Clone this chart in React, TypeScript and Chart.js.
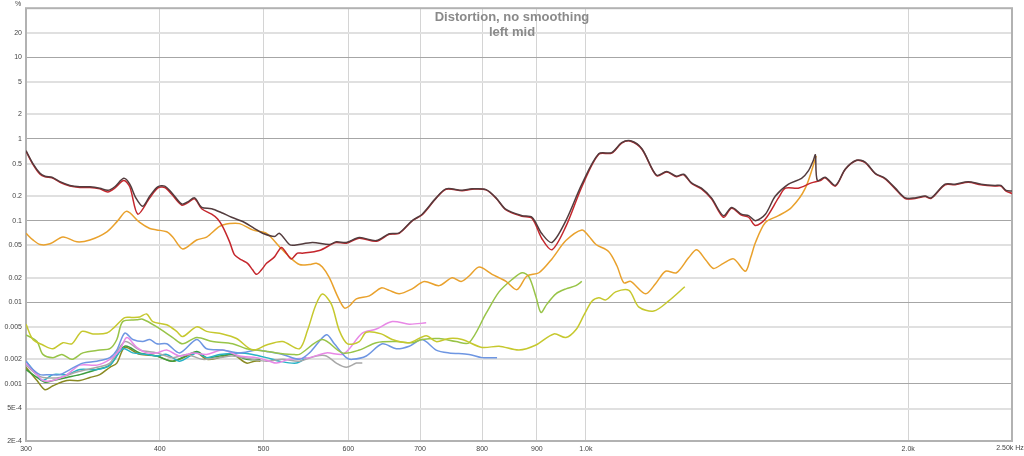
import { useEffect, useRef } from "react";
import { Chart, registerables } from "chart.js";

Chart.register(...registerables);

type P = [number, number];

// [frequency Hz, distortion %]
const totalTHD: P[] = [
  [300, 0.72], [304.5, 0.5], [309.2, 0.38], [312.5, 0.35], [317.2, 0.34], [322.7, 0.3], [329.7, 0.27],
  [336.9, 0.26], [344.2, 0.26], [351.6, 0.25], [357.7, 0.235], [363.1, 0.26], [370.2, 0.33], [375, 0.28],
  [379.9, 0.19], [385.6, 0.15], [391.5, 0.2], [398.2, 0.26], [404.3, 0.265], [410.4, 0.22], [419.3, 0.16],
  [424.7, 0.17], [431.1, 0.19], [437.7, 0.145], [447.2, 0.14], [456.9, 0.125], [466.8, 0.11], [480, 0.095],
  [490.4, 0.08], [499, 0.07], [511.9, 0.064], [517.4, 0.07], [528.6, 0.051], [534.3, 0.05], [555.4, 0.054],
  [576, 0.051], [584.7, 0.055], [597.4, 0.054], [614.3, 0.062], [637.2, 0.057], [655.2, 0.069], [669.4, 0.071],
  [688.3, 0.1], [703.3, 0.12], [724.7, 0.19], [740.4, 0.245], [766.3, 0.235], [782.9, 0.245], [806.8, 0.24],
  [824.3, 0.19], [842.2, 0.137], [871.6, 0.115], [890.5, 0.11], [909.8, 0.069], [929.6, 0.054], [957.9, 0.1],
  [991.4, 0.28], [1028, 0.66], [1057, 0.68], [1080, 0.9], [1101, 0.95], [1128, 0.76], [1164, 0.36], [1190, 0.4],
  [1215, 0.35], [1234, 0.37], [1255, 0.29], [1282, 0.25], [1310, 0.19], [1344, 0.115], [1368, 0.145],
  [1397, 0.12], [1419, 0.115], [1440, 0.1], [1471, 0.12], [1503, 0.2], [1546, 0.28], [1590, 0.33], [1614, 0.41],
  [1631, 0.55], [1638, 0.64], [1645, 0.31], [1673, 0.34], [1710, 0.27], [1747, 0.43], [1789, 0.55], [1823, 0.52],
  [1863, 0.38], [1903, 0.33], [1945, 0.25], [1987, 0.19], [2030, 0.19], [2074, 0.2], [2101, 0.19], [2165, 0.28],
  [2212, 0.28], [2275, 0.3], [2339, 0.28], [2410, 0.27], [2441, 0.27], [2468, 0.235], [2500, 0.23],
];

const h2: P[] = [
  [300, 0.71], [304.5, 0.49], [309.2, 0.37], [312.5, 0.345], [317.2, 0.335], [322.7, 0.295], [329.7, 0.265],
  [336.9, 0.255], [344.2, 0.255], [351.6, 0.245], [357.7, 0.225], [363.1, 0.25], [370.2, 0.31], [375, 0.26],
  [381.5, 0.12], [391.5, 0.19], [398.2, 0.25], [404.3, 0.255], [410.4, 0.21], [419.3, 0.155], [424.7, 0.165],
  [431.1, 0.185], [437.7, 0.14], [447.2, 0.12], [453, 0.105], [457.8, 0.085], [464.8, 0.055], [469.8, 0.038],
  [476.9, 0.033], [483.1, 0.03], [488.3, 0.025], [492.5, 0.022], [497.8, 0.025], [503.2, 0.03], [511.9, 0.036],
  [519.6, 0.047], [525.2, 0.04], [530.9, 0.034], [537.8, 0.04], [543.6, 0.04], [563.8, 0.043], [579.7, 0.052],
  [584.7, 0.054], [597.4, 0.053], [614.3, 0.061], [637.2, 0.056], [655.2, 0.068], [669.4, 0.07], [688.3, 0.099],
  [703.3, 0.118], [724.7, 0.188], [740.4, 0.243], [766.3, 0.233], [782.9, 0.243], [806.8, 0.238], [824.3, 0.188],
  [842.2, 0.135], [871.6, 0.113], [890.5, 0.107], [909.8, 0.06], [929.6, 0.044], [957.9, 0.085], [991.4, 0.26],
  [1028, 0.65], [1057, 0.67], [1080, 0.89], [1101, 0.94], [1128, 0.75], [1164, 0.355], [1190, 0.395],
  [1215, 0.345], [1234, 0.365], [1255, 0.285], [1282, 0.245], [1310, 0.185], [1344, 0.11], [1368, 0.142],
  [1397, 0.117], [1419, 0.11], [1440, 0.087], [1471, 0.105], [1513, 0.19], [1536, 0.25], [1579, 0.25],
  [1624, 0.29], [1656, 0.31], [1673, 0.335], [1710, 0.265], [1747, 0.425], [1789, 0.545], [1823, 0.515],
  [1863, 0.375], [1903, 0.325], [1945, 0.245], [1987, 0.187], [2030, 0.187], [2074, 0.197], [2101, 0.187],
  [2165, 0.275], [2212, 0.275], [2275, 0.295], [2339, 0.275], [2410, 0.265], [2441, 0.265], [2468, 0.23],
  [2500, 0.215],
];

const h3: P[] = [
  [300, 0.07], [304.5, 0.058], [309.2, 0.051], [315.9, 0.052], [324.8, 0.063], [334.7, 0.055], [344.2, 0.058],
  [357, 0.073], [365.5, 0.1], [372.6, 0.13], [383.1, 0.095], [391.5, 0.08], [397.4, 0.077], [406, 0.073],
  [411.3, 0.063], [420.2, 0.045], [433, 0.058], [442.4, 0.063], [454.9, 0.085], [464.8, 0.092], [474.8, 0.092],
  [488.3, 0.077], [503.2, 0.07], [517.4, 0.048], [528.6, 0.036], [540.1, 0.029], [551.8, 0.029], [560.2, 0.03],
  [567.4, 0.027], [576, 0.02], [586, 0.012], [594.9, 0.0085], [601.3, 0.009], [610.4, 0.011], [627.7, 0.012],
  [644, 0.015], [655.2, 0.014], [669.4, 0.0127], [688.3, 0.0146], [706.3, 0.018], [729.4, 0.016], [750, 0.02],
  [764.7, 0.018], [777.9, 0.021], [794.8, 0.027], [817.3, 0.022], [842.2, 0.018], [862.3, 0.0143], [881, 0.021],
  [904, 0.023], [929.6, 0.034], [957.9, 0.057], [991.4, 0.077], [1006, 0.065], [1022, 0.051], [1050, 0.042],
  [1069, 0.028], [1085, 0.0173], [1101, 0.018], [1137, 0.0127], [1162, 0.017], [1187, 0.024], [1215, 0.023],
  [1247, 0.035], [1269, 0.044], [1294, 0.033], [1316, 0.026], [1344, 0.03], [1374, 0.034], [1409, 0.024],
  [1425, 0.035], [1440, 0.054], [1471, 0.095], [1513, 0.115], [1556, 0.145], [1603, 0.25], [1641, 0.62],
];

const h4: P[] = [
  [300, 0.0054], [304.5, 0.0035], [311.1, 0.003], [317.9, 0.0027], [324.8, 0.0032], [331.1, 0.0031],
  [338.3, 0.0044], [346.4, 0.0041], [357, 0.0042], [363.1, 0.005], [371, 0.0065], [377.4, 0.0065],
  [383.1, 0.0066], [388.9, 0.0072], [394, 0.0058], [406, 0.0053], [414.8, 0.0044], [420.2, 0.0038],
  [433, 0.005], [442.4, 0.0044], [457.8, 0.0041], [471.8, 0.0036], [488.3, 0.0026], [503.2, 0.003],
  [520.8, 0.0033], [540.1, 0.0027], [549.5, 0.0045], [559, 0.009], [567.4, 0.0126], [578.5, 0.0095],
  [588.5, 0.0045], [599, 0.0031], [614.3, 0.0033], [623.6, 0.0043], [644, 0.0041], [659.4, 0.0035],
  [683.9, 0.0032], [709.3, 0.0039], [724.7, 0.0033], [745.2, 0.0036], [766.3, 0.0035], [799.9, 0.0028],
  [829.6, 0.0029], [866, 0.0026], [898.2, 0.003], [933.6, 0.0041], [957.9, 0.0037], [978.7, 0.0046],
  [996, 0.007], [1013, 0.0103], [1028, 0.0114], [1044, 0.0107], [1066, 0.0134], [1097, 0.014], [1120, 0.0088],
  [1157, 0.0078], [1195, 0.0104], [1237, 0.0155],
];

const h5: P[] = [
  [300, 0.004], [307.2, 0.0033], [311.1, 0.0023], [317.9, 0.0021], [324.1, 0.0023], [331.1, 0.002],
  [339, 0.0024], [351.6, 0.0026], [359.3, 0.0027], [364.7, 0.0035], [369.4, 0.0058], [380.7, 0.0061],
  [385.6, 0.0062], [397.4, 0.005], [411.3, 0.0037], [420.2, 0.0031], [433, 0.0037], [448.1, 0.0033],
  [467.8, 0.0031], [482, 0.0027], [492.5, 0.0026], [514.1, 0.0024], [532.1, 0.0023], [540.1, 0.0023],
  [567.4, 0.0035], [592.3, 0.0024], [614.3, 0.0026], [637.2, 0.0032], [665.1, 0.0033], [688.3, 0.0032],
  [703.3, 0.0035], [729.4, 0.0036], [756.5, 0.0033], [777.9, 0.0032], [806.8, 0.0073], [829.6, 0.0134],
  [853.1, 0.019], [871.6, 0.023], [884.8, 0.0205], [898.2, 0.0117], [907.9, 0.0075], [919.6, 0.0095],
  [937.6, 0.0127], [957.9, 0.0146], [978.7, 0.016], [991.4, 0.018],
];

const h6: P[] = [
  [300, 0.0019], [304.5, 0.0015], [309.2, 0.0013], [315.9, 0.0013], [322.7, 0.0013], [329.7, 0.0015],
  [339, 0.0018], [349.4, 0.0019], [359.3, 0.0021], [364.7, 0.0026], [371, 0.0042], [377.4, 0.0035],
  [385.6, 0.0033], [391.5, 0.0035], [397.4, 0.0031], [406, 0.0031], [417.5, 0.0024], [433, 0.0035],
  [442.4, 0.0027], [457.8, 0.0026], [474.8, 0.0024], [492.5, 0.0026], [503.2, 0.0025], [520.8, 0.0023],
  [540.1, 0.002], [551.8, 0.0024], [572.3, 0.004], [582.2, 0.0031], [597.4, 0.0021], [605.2, 0.002],
  [623.6, 0.0022], [645.4, 0.0031], [665.1, 0.0027], [683.9, 0.0029], [703.3, 0.0035], [724.7, 0.0026],
  [745.2, 0.0024], [777.9, 0.0023], [799.9, 0.0021], [826.1, 0.0021],
];

const h7: P[] = [
  [300, 0.0018], [307.2, 0.0013], [311.1, 0.0011], [317.9, 0.0011], [327.6, 0.0013], [336.9, 0.0017],
  [349.4, 0.0017], [359.3, 0.002], [367.1, 0.0026], [372.6, 0.0037], [380.7, 0.0028], [388.9, 0.0024],
  [397.4, 0.0024], [406, 0.0026], [417.5, 0.0022], [429.3, 0.0024], [442.4, 0.0023], [457.8, 0.0026],
  [474.8, 0.0022], [492.5, 0.0021], [506.4, 0.0019], [514.1, 0.0018], [528.6, 0.002], [551.8, 0.0021],
  [572.3, 0.0024], [592.3, 0.0023], [601.3, 0.0027], [618.3, 0.0042], [637.2, 0.0047], [659.4, 0.0058],
  [683.9, 0.0054], [709.3, 0.0056],
];

const h8: P[] = [
  [300, 0.0017], [307.2, 0.0013], [311.1, 0.0012], [322.7, 0.0012], [334.7, 0.0014], [349.4, 0.0016],
  [359.3, 0.0018], [371, 0.0033], [383.1, 0.0026], [397.4, 0.0024], [411.3, 0.0021], [423.8, 0.0023],
  [438.6, 0.002], [454.9, 0.0021], [467.8, 0.0022], [488.3, 0.002], [503.2, 0.0019], [520.8, 0.002],
  [540.1, 0.0019], [560.2, 0.0022], [572.3, 0.0022], [584.7, 0.0018], [597.4, 0.0016], [610.4, 0.0018],
  [618.3, 0.0018],
];

const h9: P[] = [
  [300, 0.0019], [307.2, 0.0013], [311.1, 0.0011], [317.9, 0.0013], [327.6, 0.0013], [336.9, 0.0015],
  [349.4, 0.0015], [359.3, 0.0017], [369.4, 0.0027], [377.4, 0.0024], [388.9, 0.0023], [397.4, 0.0022],
  [406, 0.0023], [417.5, 0.0019], [433, 0.0024], [442.4, 0.0021], [454.9, 0.0023], [474.8, 0.0024],
  [488.3, 0.0023], [503.2, 0.0021], [517.4, 0.0019], [536.6, 0.0018], [548.3, 0.0021],
];

const h10: P[] = [
  [300, 0.0015], [307.2, 0.0012], [312.5, 0.00105], [317.9, 0.0011], [327.6, 0.0012], [336.9, 0.0013],
  [349.4, 0.0015], [359.3, 0.0017], [371, 0.0029], [383.1, 0.0024], [397.4, 0.0022], [411.3, 0.0019],
  [433, 0.0025], [442.4, 0.0021], [454.9, 0.0022], [467.8, 0.0023], [482, 0.002], [496.7, 0.002],
];

const h11: P[] = [
  [300, 0.0016], [307.2, 0.0011], [312.5, 0.00085], [317.9, 0.00095], [327.6, 0.0011], [336.9, 0.0011],
  [344.2, 0.0012], [351.6, 0.0013], [359.3, 0.0016], [364.7, 0.0018], [371, 0.0028], [383.1, 0.0023],
  [397.4, 0.0022], [411.3, 0.0019], [433, 0.0024], [442.4, 0.002], [454.9, 0.0021], [467.8, 0.0023],
  [482, 0.0018], [490.4, 0.0019], [496.7, 0.0019],
];

const seriesNames = ["THD", "H2", "H3", "H4", "H5", "H6", "H7", "H8", "H9", "H10", "H11"];
const seriesData: P[][] = [totalTHD, h2, h3, h4, h5, h6, h7, h8, h9, h10, h11];
const seriesColors = [
  "#533c3e", "#c4262c", "#e9a12c", "#c6c82e", "#98c448", "#6e96e2",
  "#e888e6", "#a8a8a8", "#28b2c6", "#3e9c3e", "#8a8a22",
];

const yTicks = [2e-4, 5e-4, 0.001, 0.002, 0.005, 0.01, 0.02, 0.05, 0.1, 0.2, 0.5, 1, 2, 5, 10, 20];
const yLabels = ["2E-4", "5E-4", "0.001", "0.002", "0.005", "0.01", "0.02", "0.05", "0.1", "0.2", "0.5", "1", "2", "5", "10", "20"];
const xTicks = [300, 400, 500, 600, 700, 800, 900, 1000, 2000, 2500];
const xLabels = ["300", "400", "500", "600", "700", "800", "900", "1.0k", "2.0k", "2.50k Hz"];
const titleLines = ["Distortion, no smoothing", "left mid"];
const yUnit = "%";

const FONT = '"Liberation Sans", Arial, sans-serif';

const isDecade = (v: number) => Math.abs(Math.log10(v) - Math.round(Math.log10(v))) < 1e-6;

export default function App() {
  const ref = useRef<HTMLCanvasElement | null>(null);

  useEffect(() => {
    if (!ref.current) return;
    const decor = {
      id: "decor",
      beforeDatasetsDraw(chart: any) {
        const { ctx, chartArea } = chart;
        ctx.save();
        ctx.strokeStyle = "#b2b2b2";
        ctx.lineWidth = 2;
        ctx.strokeRect(chartArea.left, chartArea.top, chartArea.right - chartArea.left, chartArea.bottom - chartArea.top);
        ctx.restore();
      },
      afterDraw(chart: any) {
        const { ctx, width } = chart;
        ctx.save();
        ctx.fillStyle = "#8a8a8a";
        ctx.font = `bold 13px ${FONT}`;
        ctx.textAlign = "center";
        ctx.textBaseline = "middle";
        ctx.fillText(titleLines[0], width / 2, 17);
        ctx.fillText(titleLines[1], width / 2, 32);
        ctx.fillStyle = "#444";
        ctx.font = `7px ${FONT}`;
        ctx.fillText(yUnit, 18, 4);
        const xs = chart.scales.x;
        const px = xs.getPixelForValue(xTicks[xTicks.length - 1]);
        ctx.textBaseline = "top";
        ctx.fillText(xLabels[xLabels.length - 1], px - 2, xs.top + 4);
        ctx.restore();
      },
    };

    const chart = new Chart(ref.current, {
      type: "line",
      data: {
        datasets: seriesData.map((d, i) => ({
          label: seriesNames[i],
          data: d.map(([x, y]) => ({ x, y })),
          borderColor: seriesColors[i],
          backgroundColor: seriesColors[i],
          borderWidth: 1.5,
          pointRadius: 0,
          fill: false,
          tension: 0.3,
        })),
      },
      options: {
        animation: false,
        responsive: false,
        devicePixelRatio: 1,
        layout: { padding: { top: 8, right: 12, left: 0, bottom: 0 } },
        plugins: { legend: { display: false }, tooltip: { enabled: false }, title: { display: false } },
        scales: {
          x: {
            type: "logarithmic",
            min: 300,
            max: 2500,
            afterBuildTicks: (s: any) => {
              s.ticks = xTicks.map((v) => ({ value: v }));
            },
            afterFit: (s: any) => {
              s.height = 15;
              s.paddingLeft = 0;
              s.paddingRight = 0;
            },
            ticks: {
              autoSkip: false,
              maxRotation: 0,
              padding: 4,
              color: "#444",
              font: { family: FONT, size: 7 },
              callback: (_v: any, i: number) => (i === xLabels.length - 1 ? "" : xLabels[i]),
            },
            grid: { color: "#d4d4d4", lineWidth: 1, drawTicks: false },
            border: { display: false },
          },
          y: {
            type: "logarithmic",
            min: 2e-4,
            max: 40,
            afterBuildTicks: (s: any) => {
              s.ticks = yTicks.map((v) => ({ value: v }));
            },
            afterFit: (s: any) => {
              s.width = 26;
            },
            ticks: {
              autoSkip: false,
              padding: 4,
              color: "#444",
              font: { family: FONT, size: 7 },
              callback: (_v: any, i: number) => yLabels[i],
            },
            grid: {
              drawTicks: false,
              color: (c: any) => (c.tick && isDecade(c.tick.value) ? "#a6a6a6" : "#e0e0e0"),
              lineWidth: (c: any) => (c.tick && isDecade(c.tick.value) ? 1 : 2),
            },
            border: { display: false },
          },
        },
      },
      plugins: [decor],
    } as any);

    return () => chart.destroy();
  }, []);

  return (
    <div style={{ position: "absolute", left: 0, top: 0, width: 1024, height: 456, background: "#fff" }}>
      <canvas ref={ref} width={1024} height={456} style={{ width: 1024, height: 456, display: "block" }} />
    </div>
  );
}
